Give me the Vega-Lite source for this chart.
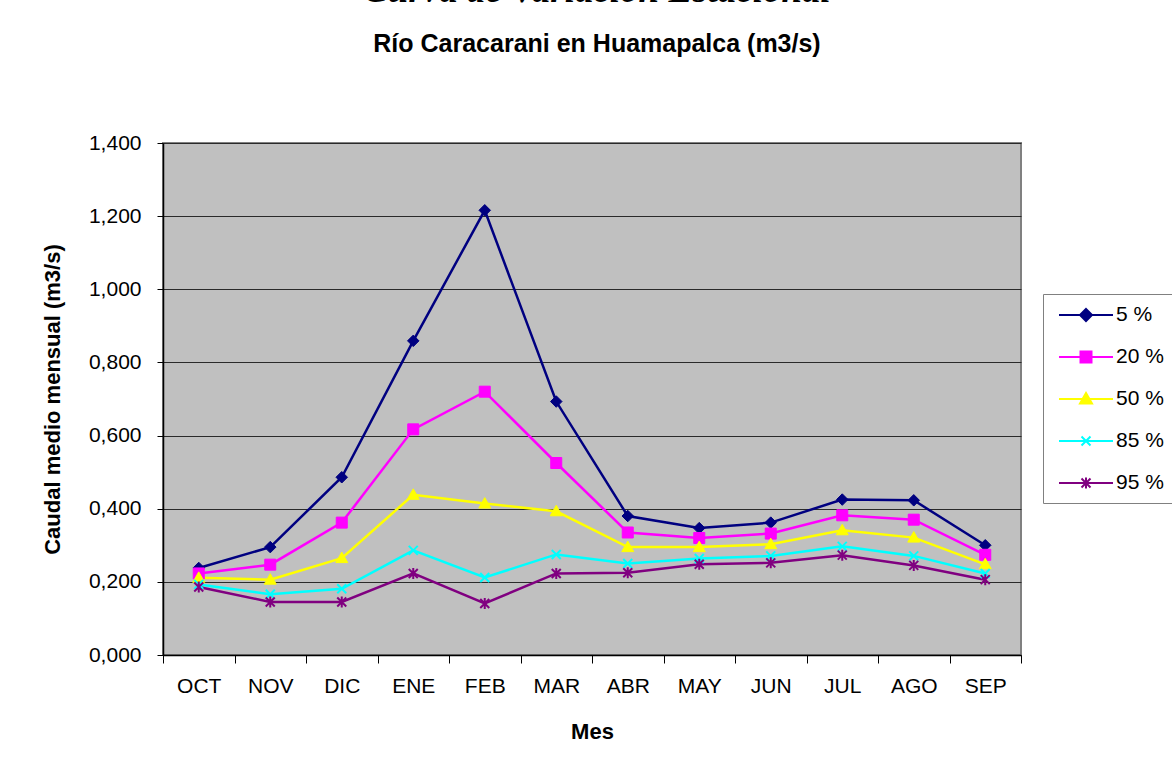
{
  "$schema": "https://vega.github.io/schema/vega-lite/v6.json",
  "width": 858,
  "height": 512,
  "autosize": {"type": "none"},
  "padding": {"left": 163, "top": 143, "right": 151, "bottom": 120},
  "background": "white",
  "config": {
    "font": "Liberation Sans",
    "view": {"fill": "#C0C0C0", "stroke": "#808080", "strokeWidth": 2},
    "axis": {
      "labelFont": "Liberation Sans",
      "titleFont": "Liberation Sans",
      "labelColor": "black",
      "titleColor": "black",
      "domainColor": "black",
      "tickColor": "black",
      "labelFontSize": 21,
      "titleFontSize": 22,
      "titleFontWeight": "bold"
    },
    "legend": {
      "orient": "none",
      "legendX": 880,
      "legendY": 151,
      "padding": 10,
      "strokeColor": "#808080",
      "fillColor": "white",
      "labelFont": "Liberation Sans",
      "labelFontSize": 21,
      "labelColor": "black",
      "labelOffset": 41,
      "symbolSize": 400,
      "rowPadding": 21
    }
  },
  "title": {
    "text": "Curva de Variación Estacional",
    "subtitle": "Río Caracarani en Huamapalca (m3/s)",
    "anchor": "middle",
    "frame": "group",
    "dx": 5,
    "font": "Liberation Serif",
    "fontSize": 37,
    "fontWeight": "bold",
    "fontStyle": "italic",
    "color": "black",
    "subtitleFont": "Liberation Sans",
    "subtitleFontSize": 25,
    "subtitleFontWeight": "bold",
    "subtitleColor": "black",
    "subtitlePadding": 22,
    "offset": 74
  },
  "data": {
    "values": [
      {"mes": "OCT", "serie": "5 %", "q": 0.238}, {"mes": "NOV", "serie": "5 %", "q": 0.295}, {"mes": "DIC", "serie": "5 %", "q": 0.486}, {"mes": "ENE", "serie": "5 %", "q": 0.859}, {"mes": "FEB", "serie": "5 %", "q": 1.216}, {"mes": "MAR", "serie": "5 %", "q": 0.693}, {"mes": "ABR", "serie": "5 %", "q": 0.380}, {"mes": "MAY", "serie": "5 %", "q": 0.347}, {"mes": "JUN", "serie": "5 %", "q": 0.362}, {"mes": "JUL", "serie": "5 %", "q": 0.425}, {"mes": "AGO", "serie": "5 %", "q": 0.423}, {"mes": "SEP", "serie": "5 %", "q": 0.300},
      {"mes": "OCT", "serie": "20 %", "q": 0.223}, {"mes": "NOV", "serie": "20 %", "q": 0.247}, {"mes": "DIC", "serie": "20 %", "q": 0.362}, {"mes": "ENE", "serie": "20 %", "q": 0.617}, {"mes": "FEB", "serie": "20 %", "q": 0.720}, {"mes": "MAR", "serie": "20 %", "q": 0.525}, {"mes": "ABR", "serie": "20 %", "q": 0.335}, {"mes": "MAY", "serie": "20 %", "q": 0.320}, {"mes": "JUN", "serie": "20 %", "q": 0.332}, {"mes": "JUL", "serie": "20 %", "q": 0.382}, {"mes": "AGO", "serie": "20 %", "q": 0.370}, {"mes": "SEP", "serie": "20 %", "q": 0.274},
      {"mes": "OCT", "serie": "50 %", "q": 0.211}, {"mes": "NOV", "serie": "50 %", "q": 0.206}, {"mes": "DIC", "serie": "50 %", "q": 0.265}, {"mes": "ENE", "serie": "50 %", "q": 0.438}, {"mes": "FEB", "serie": "50 %", "q": 0.414}, {"mes": "MAR", "serie": "50 %", "q": 0.393}, {"mes": "ABR", "serie": "50 %", "q": 0.295}, {"mes": "MAY", "serie": "50 %", "q": 0.295}, {"mes": "JUN", "serie": "50 %", "q": 0.303}, {"mes": "JUL", "serie": "50 %", "q": 0.341}, {"mes": "AGO", "serie": "50 %", "q": 0.321}, {"mes": "SEP", "serie": "50 %", "q": 0.248},
      {"mes": "OCT", "serie": "85 %", "q": 0.193}, {"mes": "NOV", "serie": "85 %", "q": 0.166}, {"mes": "DIC", "serie": "85 %", "q": 0.181}, {"mes": "ENE", "serie": "85 %", "q": 0.286}, {"mes": "FEB", "serie": "85 %", "q": 0.212}, {"mes": "MAR", "serie": "85 %", "q": 0.275}, {"mes": "ABR", "serie": "85 %", "q": 0.250}, {"mes": "MAY", "serie": "85 %", "q": 0.264}, {"mes": "JUN", "serie": "85 %", "q": 0.271}, {"mes": "JUL", "serie": "85 %", "q": 0.297}, {"mes": "AGO", "serie": "85 %", "q": 0.271}, {"mes": "SEP", "serie": "85 %", "q": 0.223},
      {"mes": "OCT", "serie": "95 %", "q": 0.186}, {"mes": "NOV", "serie": "95 %", "q": 0.145}, {"mes": "DIC", "serie": "95 %", "q": 0.145}, {"mes": "ENE", "serie": "95 %", "q": 0.223}, {"mes": "FEB", "serie": "95 %", "q": 0.141}, {"mes": "MAR", "serie": "95 %", "q": 0.223}, {"mes": "ABR", "serie": "95 %", "q": 0.225}, {"mes": "MAY", "serie": "95 %", "q": 0.248}, {"mes": "JUN", "serie": "95 %", "q": 0.252}, {"mes": "JUL", "serie": "95 %", "q": 0.273}, {"mes": "AGO", "serie": "95 %", "q": 0.245}, {"mes": "SEP", "serie": "95 %", "q": 0.206}
    ]
  },
  "encoding": {
    "x": {
      "field": "mes",
      "type": "ordinal",
      "sort": ["OCT", "NOV", "DIC", "ENE", "FEB", "MAR", "ABR", "MAY", "JUN", "JUL", "AGO", "SEP"],
      "scale": {"type": "band", "paddingInner": 0, "paddingOuter": 0},
      "bandPosition": 0.5,
      "axis": {
        "title": "Mes",
        "labelAngle": 0,
        "tickBand": "extent",
        "tickSize": 8,
        "labelPadding": 12,
        "titlePadding": 25,
        "grid": false,
        "domainWidth": 1.5
      }
    },
    "y": {
      "field": "q",
      "type": "quantitative",
      "scale": {"domain": [0, 1.4], "nice": false},
      "axis": {
        "title": "Caudal medio mensual (m3/s)",
        "values": [0, 0.2, 0.4, 0.6, 0.8, 1.0, 1.2, 1.4],
        "labelExpr": "replace(format(datum.value, '.3f'), '.', ',')",
        "tickSize": 6,
        "labelPadding": 16,
        "titlePadding": 24,
        "grid": true,
        "gridColor": "#2a2a2a",
        "gridOpacity": 1,
        "gridWidth": 1,
        "domainWidth": 1.5
      }
    },
    "color": {
      "field": "serie",
      "type": "nominal",
      "scale": {
        "domain": ["5 %", "20 %", "50 %", "85 %", "95 %"],
        "range": ["#000080", "#FF00FF", "#FFFF00", "#00FFFF", "#800080"]
      },
      "legend": {
        "title": null,
        "encode": {
          "symbols": {
            "update": {
              "shape": {"signal": "datum.value === '5 %' ? 'M-0.5,0H4.9M2.2,-0.6L2.8,0L2.2,0.6L1.6,0Z' : datum.value === '20 %' ? 'M-0.5,0H4.9M1.65,-0.55H2.75V0.55H1.65Z' : datum.value === '50 %' ? 'M-0.5,0H4.9M2.2,-0.6L2.8,0.45L1.6,0.45Z' : datum.value === '85 %' ? 'M-0.5,0H4.9M1.75,-0.45L2.65,0.45M1.75,0.45L2.65,-0.45' : 'M-0.5,0H4.9M1.75,-0.45L2.65,0.45M1.75,0.45L2.65,-0.45M2.2,-0.55V0.55'"},
              "fill": {"scale": "color", "field": "value"},
              "stroke": {"scale": "color", "field": "value"},
              "strokeWidth": {"value": 2},
              "opacity": {"value": 1},
              "fillOpacity": {"value": 1},
              "strokeOpacity": {"value": 1}
            }
          }
        }
      }
    }
  },
  "layer": [
    {
      "mark": {"type": "line", "strokeWidth": 2.5}
    },
    {
      "transform": [{"filter": "datum.serie === '5 %'"}],
      "mark": {"type": "point", "filled": true, "opacity": 1, "size": 100, "shape": "M0,-1.15L1.15,0L0,1.15L-1.15,0Z", "stroke": "#000080", "strokeWidth": 1}
    },
    {
      "transform": [{"filter": "datum.serie === '20 %'"}],
      "mark": {"type": "point", "filled": true, "opacity": 1, "size": 100, "shape": "M-1.1,-1.1H1.1V1.1H-1.1Z", "stroke": "#FF00FF", "strokeWidth": 1}
    },
    {
      "transform": [{"filter": "datum.serie === '50 %'"}],
      "mark": {"type": "point", "filled": true, "opacity": 1, "size": 100, "shape": "M0,-1.2L1.2,0.9L-1.2,0.9Z", "stroke": "#FFFF00", "strokeWidth": 1}
    },
    {
      "transform": [{"filter": "datum.serie === '85 %'"}],
      "mark": {"type": "point", "filled": false, "opacity": 1, "size": 100, "shape": "M-0.9,-0.9L0.9,0.9M-0.9,0.9L0.9,-0.9", "strokeWidth": 2}
    },
    {
      "transform": [{"filter": "datum.serie === '95 %'"}],
      "mark": {"type": "point", "filled": false, "opacity": 1, "size": 100, "shape": "M-0.9,-0.9L0.9,0.9M-0.9,0.9L0.9,-0.9M0,-1.1V1.1", "strokeWidth": 2}
    }
  ]
}
